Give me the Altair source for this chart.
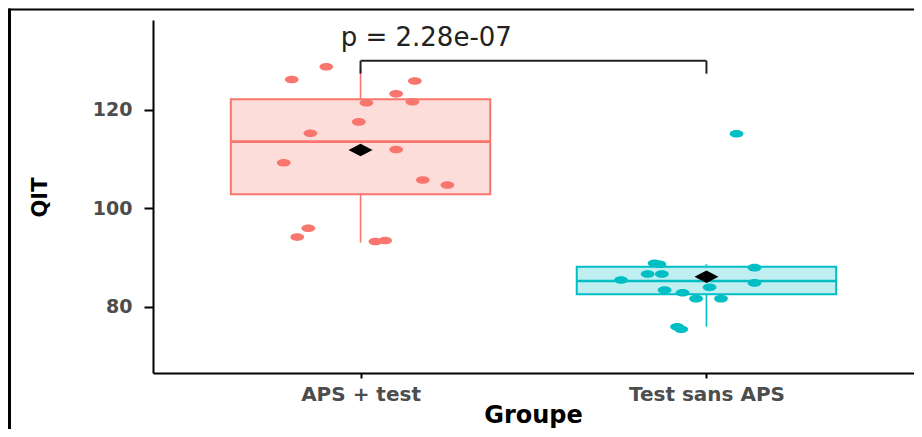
import altair as alt
import pandas as pd

# ---- data ----
groups = ["APS + test", "Test sans APS"]
stroke_colors = ["#F8766D", "#00BFC4"]
fill_colors = ["#FDDDDA", "#BFEFF0"]

aps_qit = [128.7, 126.1, 125.8, 123.2, 121.4, 121.6, 117.5, 115.2,
           111.9, 109.2, 105.7, 104.7, 95.9, 94.1, 93.2, 93.4]
aps_jitter = [-0.099, -0.199, 0.157, 0.103, 0.017, 0.150, -0.005, -0.145,
              0.103, -0.222, 0.180, 0.251, -0.151, -0.183, 0.043, 0.071]
test_qit = [115.1, 88.8, 88.6, 87.9, 86.6, 86.6, 85.4, 84.8,
            83.9, 83.35, 82.8, 81.6, 81.6, 75.9, 75.4]
test_jitter = [0.087, -0.150, -0.136, 0.139, -0.170, -0.129, -0.247, 0.139,
               0.009, -0.121, -0.069, -0.030, 0.042, -0.085, -0.073]

box_lower = [93.0, 75.9]
box_q1 = [102.8, 82.5]
box_median = [113.5, 85.2]
box_q3 = [122.1, 88.1]
box_upper = [128.7, 88.6]
group_mean = [111.8, 86.05]

p_label = "p = 2.28e-07"
bracket_y = 129.9
bracket_tip = 127.3
label_pos = 1.19
label_y = 132.9

y_ticks = [80, 100, 120]

# ---- tables ----
rows = []
for i, (vals, jit) in enumerate([(aps_qit, aps_jitter), (test_qit, test_jitter)]):
    for v, j in zip(vals, jit):
        rows.append({"group": groups[i], "pos": i + 1 + j, "qit": v})
pts = pd.DataFrame(rows)

half = 0.375
box = pd.DataFrame({
    "group": groups,
    "pos": [1, 2],
    "left": [1 - half, 2 - half],
    "right": [1 + half, 2 + half],
    "lower": box_lower, "q1": box_q1, "median": box_median,
    "q3": box_q3, "upper": box_upper, "mean": group_mean,
})
bracket = pd.DataFrame({"x1": [1], "x2": [2], "y": [bracket_y], "tip": [bracket_tip],
                        "lx": [label_pos], "ly": [label_y], "label": [p_label]})
one = pd.DataFrame({"k": [0]})

FONT = "DejaVu Sans"
label_expr = f"datum.value == 1 ? '{groups[0]}' : '{groups[1]}'"

xscale = alt.Scale(domain=[0.4, 2.6], nice=False, zero=False)
yscale = alt.Scale(domain=[66.5, 138.2], nice=False, zero=False)
xaxis = alt.Axis(values=[1, 2], labelExpr=label_expr, title="Groupe", grid=False,
                 tickSize=5, tickColor="black", tickWidth=2,
                 domainColor="black", domainWidth=2,
                 labelFont=FONT, labelFontWeight="bold", labelFontSize=20,
                 labelColor="#4D4D4D", labelPadding=6, labelFlush=False,
                 titleFont=FONT, titleFontWeight="bold", titleFontSize=24,
                 titleColor="black", titleX=380, titleY=49,
                 titleBaseline="alphabetic", titleAlign="center")
yaxis = alt.Axis(values=y_ticks, title="QIT", grid=False,
                 tickSize=9, tickColor="black", tickWidth=2,
                 domainColor="black", domainWidth=2,
                 labelFont=FONT, labelFontWeight="bold", labelFontSize=19,
                 labelColor="#4D4D4D", labelPadding=12,
                 titleFont=FONT, titleFontWeight="bold", titleFontSize=21,
                 titleColor="black", titleX=-113, titleY=177, titleAngle=270,
                 titleAlign="center", titleBaseline="middle")


def X(field):
    return alt.X(f"{field}:Q", scale=xscale, axis=xaxis)


def Y(field):
    return alt.Y(f"{field}:Q", scale=yscale, axis=yaxis)


stroke_enc = alt.Stroke("group:N", scale=alt.Scale(domain=groups, range=stroke_colors), legend=None)
fill_enc = alt.Fill("group:N", scale=alt.Scale(domain=groups, range=fill_colors), legend=None)
color_enc = alt.Color("group:N", scale=alt.Scale(domain=groups, range=stroke_colors), legend=None)

boxes = alt.Chart(box).mark_rect(strokeWidth=2).encode(
    x=X("left"), x2="right", y=Y("q1"), y2="q3", fill=fill_enc, stroke=stroke_enc)
whisk_lo = alt.Chart(box).mark_rule(strokeWidth=1.6).encode(
    x=X("pos"), y=Y("lower"), y2="q1", stroke=stroke_enc)
whisk_hi = alt.Chart(box).mark_rule(strokeWidth=1.6).encode(
    x=X("pos"), y=Y("q3"), y2="upper", stroke=stroke_enc)
medians = alt.Chart(box).mark_rule(strokeWidth=2.6).encode(
    x=X("left"), x2="right", y=Y("median"), stroke=stroke_enc)

ellipse = "M-1,0A1,0.55,0,1,1,1,0A1,0.55,0,1,1,-1,0Z"
points = alt.Chart(pts).mark_point(shape=ellipse, size=190, filled=True, opacity=1).encode(
    x=X("pos"), y=Y("qit"), color=color_enc)

diamond = "M-1,0L0,-0.52L1,0L0,0.52Z"
means = alt.Chart(box).mark_point(shape=diamond, size=576, filled=True, opacity=1,
                                  color="black").encode(x=X("pos"), y=Y("mean"))

br_h = alt.Chart(bracket).mark_rule(strokeWidth=2, color="#222222").encode(
    x=X("x1"), x2="x2", y=Y("y"))
br_l = alt.Chart(bracket).mark_rule(strokeWidth=2, color="#222222").encode(
    x=X("x1"), y=Y("tip"), y2="y")
br_r = alt.Chart(bracket).mark_rule(strokeWidth=2, color="#222222").encode(
    x=X("x2"), y=Y("tip"), y2="y")
ptext = alt.Chart(bracket).mark_text(font=FONT, fontSize=26, color="#222222",
                                     align="center", baseline="alphabetic").encode(
    x=X("lx"), y=Y("ly"), text="label:N")

frame_top = alt.Chart(one).mark_rule(strokeWidth=2, color="black").encode(
    x=alt.value(-144.5), x2=alt.value(761), y=alt.value(-10.5))
frame_left = alt.Chart(one).mark_rule(strokeWidth=3, color="black").encode(
    x=alt.value(-143.5), y=alt.value(-11.5), y2=alt.value(409))

chart = alt.layer(
    boxes, whisk_lo, whisk_hi, medians, points, means, br_h, br_l, br_r, ptext,
    frame_top, frame_left
).properties(
    width=761, height=353,
    autosize=alt.AutoSizeParams(type="none"),
    padding={"left": 145, "top": 12, "right": 0, "bottom": 56},
    background="white",
).configure_view(stroke=None)

chart.save("out.html", embed_options={"renderer": "svg", "actions": False})
